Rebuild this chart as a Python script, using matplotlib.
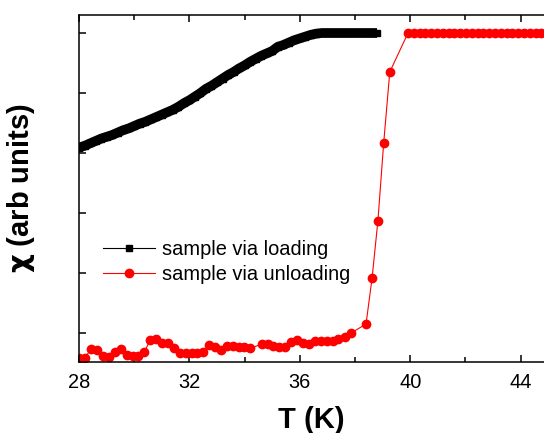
import matplotlib
matplotlib.use("Agg")
import matplotlib.pyplot as plt
from matplotlib.ticker import MultipleLocator

plt.rcParams["font.family"] = ["Liberation Sans", "DejaVu Sans"]
plt.rcParams["mathtext.fontset"] = "dejavusans"

# loading curve (dense data, arb units)
T_load = [28.0, 28.2, 28.4, 28.6, 28.8, 29.0, 29.2, 29.4, 29.6, 29.8,
          30.0, 30.2, 30.4, 30.6, 30.8, 31.0, 31.2, 31.4, 31.6, 31.8,
          32.0, 32.2, 32.4, 32.6, 32.8, 33.0, 33.2, 33.4, 33.6, 33.8,
          34.0, 34.2, 34.4, 34.6, 34.8, 35.0, 35.2, 35.4, 35.6, 35.8,
          36.0, 36.2, 36.4, 36.6, 36.8, 37.0, 37.2, 37.4, 37.6, 37.8,
          38.0, 38.2, 38.4, 38.6, 38.8]
chi_load = [3.09, 3.12, 3.16, 3.20, 3.24, 3.27, 3.30, 3.34, 3.38, 3.41,
            3.45, 3.49, 3.52, 3.56, 3.60, 3.64, 3.68, 3.72, 3.77, 3.83,
            3.88, 3.94, 4.00, 4.07, 4.12, 4.18, 4.24, 4.30, 4.35, 4.41,
            4.46, 4.52, 4.57, 4.62, 4.66, 4.70, 4.77, 4.80, 4.84, 4.88,
            4.91, 4.94, 4.97, 4.99, 5.00, 5.00, 5.00, 5.00, 5.00, 5.00,
            5.00, 5.00, 5.00, 5.00, 5.00]

# unloading curve
T_unload = [28.01, 28.22, 28.43, 28.64, 28.86, 29.09, 29.32, 29.51, 29.73, 29.95,
            30.15, 30.36, 30.58, 30.79, 31.00, 31.21, 31.44, 31.66, 31.88, 32.08,
            32.29, 32.50, 32.72, 32.93, 33.13, 33.35, 33.59, 33.80, 33.99, 34.20,
            34.62, 34.83, 35.04, 35.26, 35.47, 35.68, 35.89, 36.11, 36.32, 36.55,
            36.76, 36.97, 37.19, 37.40, 37.64, 37.86, 38.40, 38.62, 38.83, 39.04,
            39.26, 39.92, 40.13, 40.34, 40.55, 40.76, 40.97, 41.18, 41.39, 41.60,
            41.81, 42.02, 42.23, 42.44, 42.65, 42.86, 43.07, 43.28, 43.49, 43.70,
            43.91, 44.12, 44.33, 44.54, 44.75]
chi_unload = [-0.41, -0.41, -0.27, -0.29, -0.38, -0.40, -0.32, -0.27, -0.37, -0.38,
              -0.38, -0.32, -0.12, -0.10, -0.17, -0.17, -0.25, -0.34, -0.34, -0.34,
              -0.34, -0.32, -0.20, -0.24, -0.29, -0.22, -0.22, -0.23, -0.23, -0.25,
              -0.19, -0.18, -0.22, -0.24, -0.24, -0.15, -0.12, -0.17, -0.19, -0.13,
              -0.13, -0.13, -0.13, -0.10, -0.06, 0.00, 0.15, 0.92, 1.87, 3.17,
              4.35, 5.00, 5.00, 5.00, 5.00, 5.00, 5.00, 5.00, 5.00, 5.00,
              5.00, 5.00, 5.00, 5.00, 5.00, 5.00, 5.00, 5.00, 5.00, 5.00,
              5.00, 5.00, 5.00, 5.00, 5.00]

fig = plt.figure(figsize=(5.44, 4.33), dpi=100)
ax = fig.add_axes([79 / 544, 71 / 433, 1 - 79 / 544, 347 / 433])

# the loading points are so dense they merge into a band
ax.plot(T_load, chi_load, color="black", linewidth=7, solid_capstyle="butt")
ax.plot(T_load, chi_load, color="black", marker="s", markersize=4.5,
        linewidth=0.8, label="sample via loading")
ax.plot(T_unload, chi_unload, color="red", marker="o", markersize=6,
        linewidth=0.8, label="sample via unloading")

ax.set_xlim(28, 28 + 465 / 27.6)
ax.set_ylim(-0.483, 5.3)
ax.xaxis.set_major_locator(MultipleLocator(4))
ax.xaxis.set_minor_locator(MultipleLocator(2))
ax.set_yticks([0, 1, 2, 3, 4, 5])
ax.set_yticklabels([])
ax.tick_params(which="both", direction="in", top=True, labelsize=14.4, width=1.1)
ax.tick_params(which="major", length=5)
ax.tick_params(which="minor", length=3.5)
ax.tick_params(axis="x", pad=8)
for s in ["left", "bottom", "top"]:
    ax.spines[s].set_linewidth(1.1)
ax.spines["right"].set_visible(False)

ax.set_xlabel("T (K)", fontsize=21, fontweight="bold", labelpad=10)
ax.set_ylabel(r"$\mathbf{\chi}$ (arb units)", fontsize=21, fontweight="bold", labelpad=27)

ax.legend(loc="upper left", bbox_to_anchor=(0.052, 0.352), frameon=False,
          fontsize=14.4, handlelength=2.6, handletextpad=0.35,
          labelspacing=0.3, borderpad=0, borderaxespad=0)

fig.savefig("out.png", dpi=100)
